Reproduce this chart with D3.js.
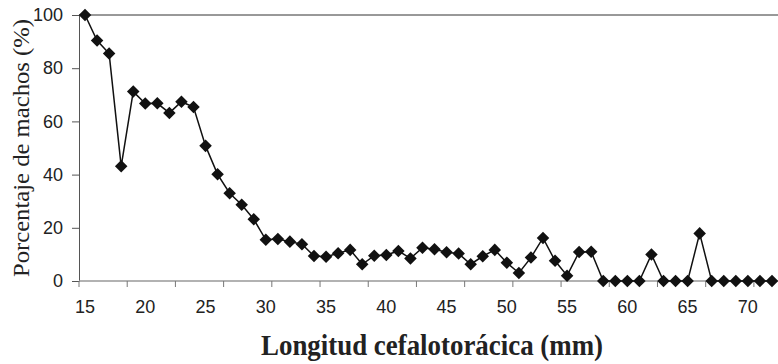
<!DOCTYPE html>
<html>
<head>
<meta charset="utf-8">
<script src="https://cdn.jsdelivr.net/npm/d3@7"></script>
<style>
  body { margin: 0; background: #fff; }
  svg { display: block; }
</style>
</head>
<body>
<svg id="chart" width="778" height="364"></svg>
<script>
// longitud cefalotorácica (mm), one category per mm
var lengths = d3.range(15, 73);
var pctMales = [
    100, 90.4, 85.5, 43.1, 71.2, 66.7, 66.8, 63.2, 67.4, 65.4,
    50.8, 40.1, 33.0, 28.7, 23.2, 15.5, 15.8, 14.8, 13.8, 9.4,
    9.1, 10.4, 11.7, 6.3, 9.5, 9.8, 11.3, 8.5, 12.5, 11.9,
    10.8, 10.3, 6.3, 9.3, 11.7, 6.9, 3.0, 8.8, 16.2, 7.6,
    2.0, 10.9, 11.0, 0, 0, 0, 0, 10.0, 0, 0,
    0, 17.9, 0, 0, 0, 0, 0, 0
];
var yTicks = [0, 20, 40, 60, 80, 100];
var xLabels = [15, 20, 25, 30, 35, 40, 45, 50, 55, 60, 65, 70];

var svg = d3.select('#chart'),
    margin = {left: 79, right: 0, top: 15, bottom: 83},
    width = 778 - margin.left - margin.right,
    height = 364 - margin.top - margin.bottom;

var x = d3.scaleBand().domain(lengths).range([margin.left, margin.left + width]);
var y = d3.scaleLinear().domain([0, 100]).range([margin.top + height, margin.top]);

var data = lengths.map(function (d, i) { return {mm: d, v: pctMales[i]}; });
var cx = function (d) { return x(d) + x.bandwidth() / 2; };
var sansFont = "'Liberation Sans', Arial, sans-serif",
    serifFont = "'Liberation Serif', 'Times New Roman', serif";

// top border line at 100
svg.append('line')
    .attr('x1', margin.left).attr('x2', margin.left + width)
    .attr('y1', y(100)).attr('y2', y(100))
    .attr('stroke', '#333').attr('stroke-width', 1);

// y axis
var yAxis = svg.append('g')
    .attr('transform', 'translate(' + margin.left + ',0)')
    .call(d3.axisLeft(y).tickValues(yTicks).tickSize(7).tickPadding(9));
yAxis.select('.domain').attr('stroke', '#555');
yAxis.selectAll('.tick line').attr('stroke', '#555');
yAxis.selectAll('text')
    .attr('font-family', sansFont)
    .attr('font-size', 18).attr('fill', '#222');

// x axis: tick marks every 4 categories, labels every 5 mm
var xAxis = svg.append('g')
    .attr('transform', 'translate(0,' + y(0) + ')');
xAxis.append('line')
    .attr('x1', margin.left).attr('x2', margin.left + width)
    .attr('stroke', '#999').attr('stroke-width', 1.5);
xAxis.selectAll('.tk')
    .data(lengths.filter(function (d, i) { return i % 4 === 0; }))
    .enter().append('line')
    .attr('class', 'tk')
    .attr('x1', function (d) { return x(d); })
    .attr('x2', function (d) { return x(d); })
    .attr('y1', 0).attr('y2', 6)
    .attr('stroke', '#777');
xAxis.selectAll('.lbl')
    .data(xLabels)
    .enter().append('text')
    .attr('class', 'lbl')
    .attr('x', cx)
    .attr('y', 32)
    .attr('text-anchor', 'middle')
    .attr('font-family', sansFont)
    .attr('font-size', 18).attr('fill', '#222')
    .text(function (d) { return d; });

// series line
svg.append('path')
    .datum(data)
    .attr('fill', 'none')
    .attr('stroke', '#111')
    .attr('stroke-width', 1.5)
    .attr('d', d3.line().x(function (d) { return cx(d.mm); }).y(function (d) { return y(d.v); }));

// diamond markers
svg.selectAll('.pt')
    .data(data)
    .enter().append('path')
    .attr('class', 'pt')
    .attr('transform', function (d) { return 'translate(' + cx(d.mm) + ',' + y(d.v) + ')'; })
    .attr('d', d3.symbol().type(d3.symbolDiamond2).size(100))
    .attr('fill', '#111');

// axis titles
svg.append('text')
    .attr('transform', 'translate(21,' + (margin.top + height / 2) + ') rotate(-90)')
    .attr('text-anchor', 'middle')
    .attr('dy', '0.35em')
    .attr('font-family', serifFont)
    .attr('font-size', 24).attr('fill', '#222')
    .attr('textLength', 258).attr('lengthAdjust', 'spacingAndGlyphs')
    .text('Porcentaje de machos (%)');

svg.append('text')
    .attr('x', 432).attr('y', 355)
    .attr('text-anchor', 'middle')
    .attr('font-family', serifFont)
    .attr('font-weight', 'bold')
    .attr('font-size', 29).attr('fill', '#222')
    .attr('textLength', 342).attr('lengthAdjust', 'spacingAndGlyphs')
    .text('Longitud cefalotorácica (mm)');
</script>
</body>
</html>
